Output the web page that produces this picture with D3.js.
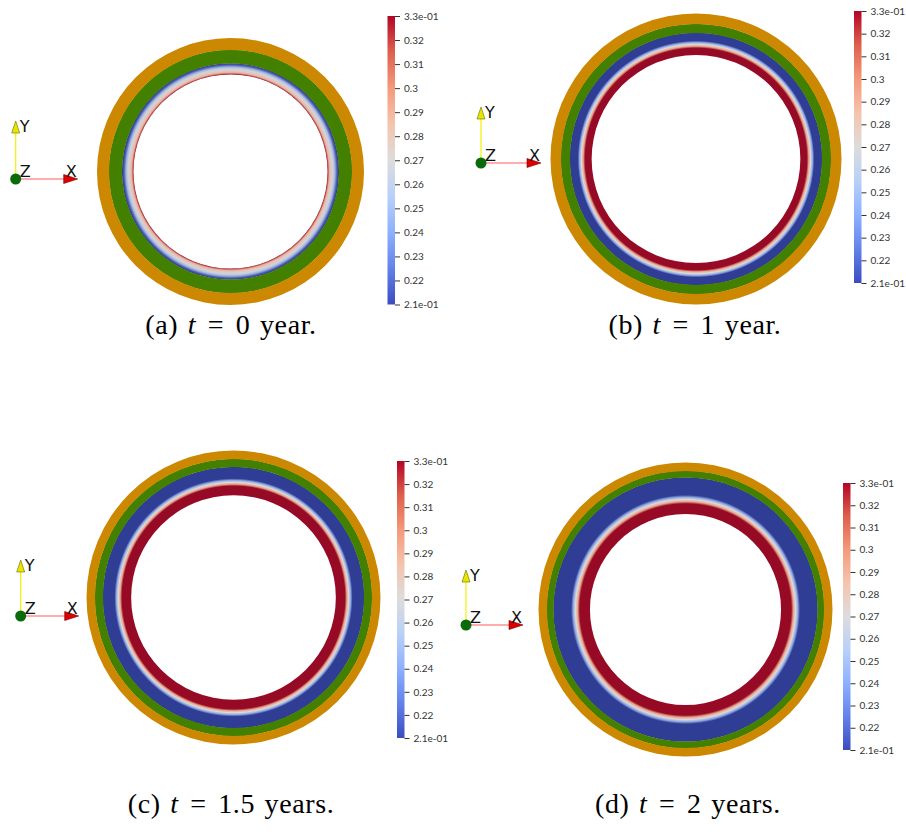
<!DOCTYPE html>
<html lang="en">
<head>
  <meta charset="UTF-8">
  <title>rings</title>
  <script src="https://cdn.jsdelivr.net/npm/d3@7"></script>
  <style>
    body { margin: 0; background: #fff; }
  </style>
</head>
<body>
</body>
<script>
  const W = 906
  const H = 835

  // data
  const panelIds = ['a', 'b', 'c', 'd']
  const times = ['0 year.', '1 year.', '1.5 years.', '2 years.']
  const tickValues = [0.21, 0.22, 0.23, 0.24, 0.25, 0.26, 0.27, 0.28, 0.29, 0.3, 0.31, 0.32, 0.33]
  // band edges as fraction of the outer radius
  const orangeInner = [0.910, 0.928, 0.942, 0.943]
  const greenInner = [0.809, 0.866, 0.888, 0.898]
  // radial profile of the saturation field (fraction of outer radius, value)
  const profileR = [
    [0.809, 0.797, 0.783, 0.768, 0.752, 0.740, 0.732, 0.727],
    [0.866, 0.813, 0.801, 0.788, 0.775, 0.762, 0.715],
    [0.888, 0.810, 0.797, 0.784, 0.771, 0.758, 0.696],
    [0.898, 0.779, 0.764, 0.749, 0.734, 0.719, 0.650]
  ]
  const profileV = [
    [0.21, 0.22, 0.245, 0.265, 0.28, 0.295, 0.315, 0.33],
    [0.21, 0.21, 0.24, 0.27, 0.30, 0.33, 0.33],
    [0.21, 0.21, 0.24, 0.27, 0.30, 0.33, 0.33],
    [0.21, 0.21, 0.24, 0.27, 0.30, 0.33, 0.33]
  ]

  // layout
  const centers = [[230.5, 171.5], [696, 159], [233.5, 597.5], [685.5, 609.5]]
  const outerR = [133.5, 145.5, 147, 147]
  const bars = [[387.5, 16, 304.5], [854, 11, 283], [397, 461, 738], [843, 483, 750]]
  const triads = [[15.7, 179, 58, 62], [481, 163, 56, 60], [20.7, 616, 56, 58], [466, 625, 55, 57]]
  const captions = [[231, 334], [695, 334], [231, 813], [688, 813]]

  const svg = d3.select('body').append('svg')
    .attr('width', W)
    .attr('height', H)
  svg.append('rect').attr('width', W).attr('height', H).attr('fill', '#fff')
  const defs = svg.append('defs')

  // colour maps: colorbar (cool to warm) and shaded ring
  const barColor = d3.scaleLinear()
    .domain([0.21, 0.225, 0.24, 0.255, 0.27, 0.285, 0.30, 0.315, 0.33])
    .range(['#3b4cc0', '#6282ea', '#8db0fe', '#b8d0f9', '#dddcdc', '#f5c4ad', '#f49a7b', '#de604d', '#b40426'])
  const ringColor = d3.scaleLinear()
    .domain([0.21, 0.24, 0.27, 0.30, 0.33])
    .range(['#2f3d94', '#8fa9e6', '#dcdad9', '#eba58c', '#960a25'])

  panelIds.forEach((id, i) => {
    const [cx, cy] = centers[i]
    const R = outerR[i]
    const g = svg.append('g').attr('transform', `translate(${cx},${cy})`)
    const arc = d3.arc().startAngle(0).endAngle(2 * Math.PI)

    // radial gradient for saturation band
    const rg = defs.append('radialGradient')
      .attr('id', 'rg' + id)
      .attr('gradientUnits', 'userSpaceOnUse')
      .attr('cx', 0).attr('cy', 0).attr('r', R * greenInner[i])
    const stops = profileR[i].map((r, k) => ({ off: r / greenInner[i], v: profileV[i][k] })).reverse()
    rg.selectAll('stop').data(stops).enter().append('stop')
      .attr('offset', d => d.off)
      .attr('stop-color', d => ringColor(d.v))

    const hole = profileR[i][profileR[i].length - 1]
    g.append('path')
      .attr('d', arc({ innerRadius: R * hole, outerRadius: R * greenInner[i] + 0.3 }))
      .attr('fill', `url(#rg${id})`)
    g.append('path')
      .attr('d', arc({ innerRadius: R * greenInner[i], outerRadius: R * orangeInner[i] + 0.3 }))
      .attr('fill', '#438000')
    g.append('path')
      .attr('d', arc({ innerRadius: R * orangeInner[i], outerRadius: R }))
      .attr('fill', '#cc8800')

    // colorbar
    const [bx, by0, by1] = bars[i]
    const y = d3.scaleLinear().domain([0.21, 0.33]).range([by1, by0])
    const lg = defs.append('linearGradient')
      .attr('id', 'lg' + id)
      .attr('x1', 0).attr('y1', 1).attr('x2', 0).attr('y2', 0)
    lg.selectAll('stop').data(barColor.domain()).enter().append('stop')
      .attr('offset', d => (d - 0.21) / 0.12)
      .attr('stop-color', d => barColor(d))
    svg.append('rect')
      .attr('x', bx).attr('y', by0)
      .attr('width', 7.5).attr('height', by1 - by0)
      .attr('fill', `url(#lg${id})`)
    const axis = d3.axisRight(y)
      .tickValues(tickValues)
      .tickSize(5)
      .tickPadding(4)
      .tickFormat(d => (d === 0.21 ? '2.1e-01' : d === 0.33 ? '3.3e-01' : String(+d.toFixed(2))))
    const ag = svg.append('g')
      .attr('transform', `translate(${bx + 7.5},0)`)
      .call(axis)
    ag.select('.domain').remove()
    ag.selectAll('line').attr('stroke', '#333')
    ag.selectAll('text').attr('fill', '#333')
      .attr('font-family', 'Lato, "Open Sans", sans-serif')
      .attr('font-size', 10)

    // orientation triad
    const [ox, oy, ly, lx] = triads[i]
    const t = svg.append('g').attr('transform', `translate(${ox},${oy})`)
    t.append('line').attr('x1', 0).attr('y1', 0).attr('x2', 0).attr('y2', -ly + 12)
      .attr('stroke', '#f2f200').attr('stroke-width', 1.2)
    t.append('path').attr('d', `M-4,${-ly + 12}L4,${-ly + 12}L0,${-ly}Z`)
      .attr('fill', '#e6e600').attr('stroke', '#6b6b00').attr('stroke-width', 0.6)
    t.append('line').attr('x1', 0).attr('y1', 0).attr('x2', lx - 14).attr('y2', 0)
      .attr('stroke', '#ff5a5a').attr('stroke-width', 1.2)
    t.append('path').attr('d', `M${lx - 14},-4.5L${lx - 14},4.5L${lx},0Z`)
      .attr('fill', '#e00000').attr('stroke', '#700000').attr('stroke-width', 0.6)
    t.append('circle').attr('r', 5.5).attr('fill', '#0b6b0b')
    const lab = [['Y', 4, -ly + 11], ['Z', 4, -2], ['X', lx - 12, -2]]
    t.selectAll('text').data(lab).enter().append('text')
      .attr('x', d => d[1]).attr('y', d => d[2])
      .attr('font-family', 'DejaVu Sans, sans-serif')
      .attr('font-size', 16)
      .attr('fill', '#111')
      .text(d => d[0])

    // caption, extra room round the equals sign as in LaTeX
    const [tx, ty] = captions[i]
    const cap = svg.append('text')
      .attr('x', tx).attr('y', ty)
      .attr('text-anchor', 'middle')
      .attr('font-family', '"Liberation Serif", serif')
      .attr('font-size', 28)
      .attr('word-spacing', 2)
      .attr('letter-spacing', 0.6)
      .attr('fill', '#000')
    cap.append('tspan').text(`(${id}) `)
    cap.append('tspan').attr('font-style', 'italic').text('t')
    cap.append('tspan').attr('dx', 2).text(' = ')
    cap.append('tspan').attr('dx', 2).text(times[i])
  })
</script>
</html>
